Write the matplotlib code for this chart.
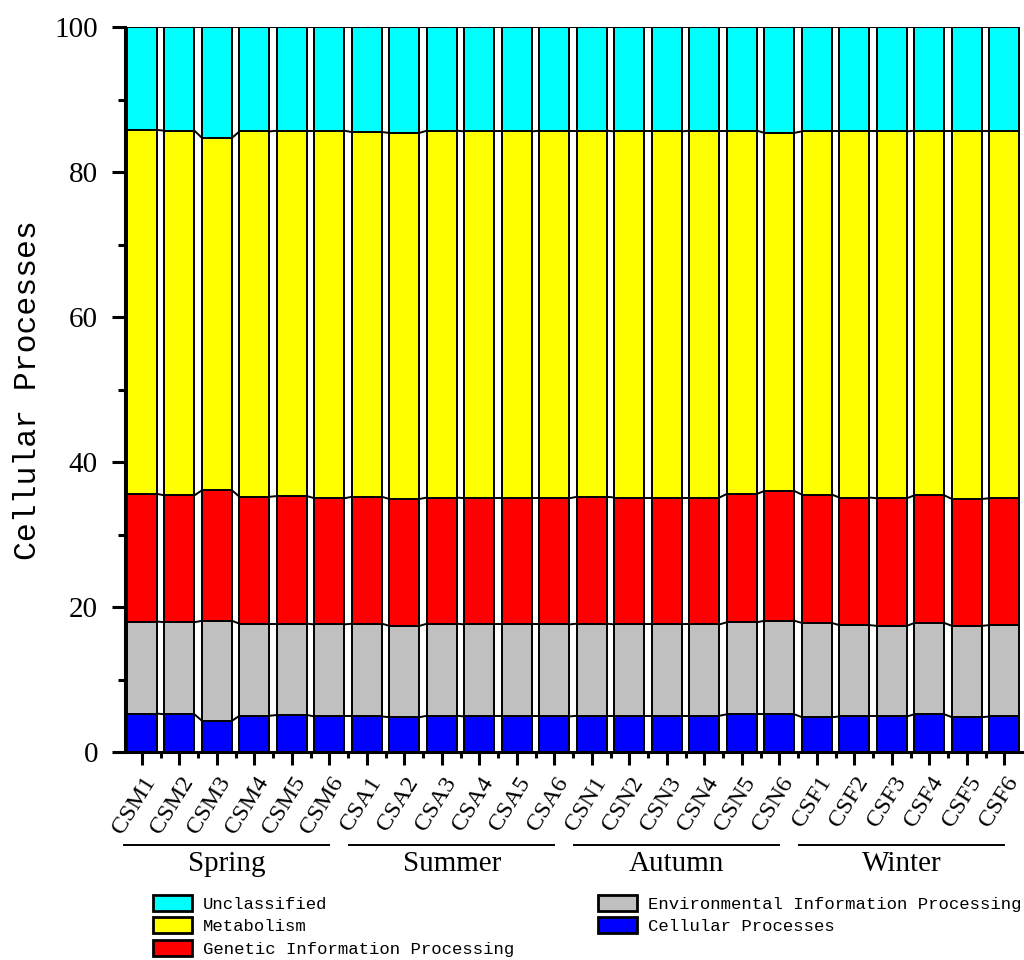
import numpy as np
import matplotlib
matplotlib.use("Agg")
import matplotlib.pyplot as plt
from matplotlib.patches import Patch
from matplotlib.ticker import MultipleLocator, FixedLocator, NullFormatter
import matplotlib.transforms as mtransforms

# Sample labels and season groups
samples = ["CSM1", "CSM2", "CSM3", "CSM4", "CSM5", "CSM6",
           "CSA1", "CSA2", "CSA3", "CSA4", "CSA5", "CSA6",
           "CSN1", "CSN2", "CSN3", "CSN4", "CSN5", "CSN6",
           "CSF1", "CSF2", "CSF3", "CSF4", "CSF5", "CSF6"]
seasons = ["Spring", "Summer", "Autumn", "Winter"]

# Relative abundance (%) of each functional category, bottom to top
cellular = [5.3, 5.2, 4.3, 5.0, 5.1, 4.9,
            4.9, 4.8, 5.0, 4.9, 4.9, 4.9,
            5.0, 5.0, 5.0, 5.0, 5.2, 5.2,
            4.8, 4.9, 4.9, 5.2, 4.8, 4.9]
environmental = [12.7, 12.7, 13.8, 12.7, 12.6, 12.7,
                 12.8, 12.6, 12.7, 12.7, 12.7, 12.7,
                 12.7, 12.6, 12.6, 12.6, 12.7, 12.9,
                 13.0, 12.6, 12.5, 12.6, 12.6, 12.6]
genetic = [17.6, 17.5, 18.0, 17.5, 17.6, 17.4,
           17.5, 17.5, 17.4, 17.4, 17.4, 17.4,
           17.5, 17.5, 17.5, 17.5, 17.7, 17.9,
           17.7, 17.6, 17.6, 17.6, 17.5, 17.5]
metabolism = [50.2, 50.3, 48.6, 50.4, 50.4, 50.7,
              50.3, 50.5, 50.6, 50.6, 50.6, 50.7,
              50.5, 50.5, 50.5, 50.6, 50.1, 49.4,
              50.1, 50.5, 50.6, 50.3, 50.8, 50.7]
unclassified = [14.2, 14.3, 15.3, 14.4, 14.3, 14.3,
                14.5, 14.6, 14.3, 14.4, 14.4, 14.3,
                14.3, 14.4, 14.4, 14.3, 14.3, 14.6,
                14.4, 14.4, 14.4, 14.3, 14.3, 14.3]

series = [
    ("Cellular Processes", cellular, "#0000FF"),
    ("Environmental Information Processing", environmental, "#C0C0C0"),
    ("Genetic Information Processing", genetic, "#FF0000"),
    ("Metabolism", metabolism, "#FFFF00"),
    ("Unclassified", unclassified, "#00FFFF"),
]

SERIF = "Liberation Serif"
MONO = "Liberation Mono"

fig = plt.figure(figsize=(10.24, 9.6), dpi=100)
ax = fig.add_axes([125 / 1024, 208 / 960, 897 / 1024, 725 / 960])

x = np.arange(len(samples))
width = 0.8
edge_lw = 1.4
bottom = np.zeros(len(samples))
levels = [bottom.copy()]
for name, vals, color in series:
    vals = np.asarray(vals, dtype=float)
    ax.bar(x, vals, width=width, bottom=bottom, color=color,
           edgecolor="black", linewidth=edge_lw, zorder=2)
    bottom = bottom + vals
    levels.append(bottom.copy())

# Connecting lines between adjacent bars at every stack boundary
for lev in levels[1:]:
    for i in range(len(samples) - 1):
        ax.plot([x[i] + width / 2, x[i + 1] - width / 2], [lev[i], lev[i + 1]],
                color="black", linewidth=edge_lw, zorder=3, solid_capstyle="butt")

ax.set_xlim(-0.453, 23.47)
ax.set_ylim(0, 100)

for side in ("top", "right"):
    ax.spines[side].set_visible(False)
for side in ("left", "bottom"):
    ax.spines[side].set_linewidth(2.2)

ax.yaxis.set_major_locator(MultipleLocator(20))
ax.yaxis.set_minor_locator(MultipleLocator(10))
ax.xaxis.set_major_locator(FixedLocator(x))
ax.xaxis.set_minor_locator(FixedLocator(np.arange(-0.5, 24, 1.0)))
ax.xaxis.set_major_formatter(NullFormatter())

ax.tick_params(axis="y", which="major", direction="out", length=9.5, width=2.2,
               pad=10, labelsize=21)
ax.tick_params(axis="y", which="minor", direction="out", length=5, width=2.2)
ax.tick_params(axis="x", which="major", direction="out", length=9.5, width=2.2)
ax.tick_params(axis="x", which="minor", direction="out", length=4.5, width=2.2)

for lbl in ax.get_yticklabels():
    lbl.set_fontfamily(SERIF)

# Rotated sample labels, anchored at the end of each label
xform = mtransforms.blended_transform_factory(ax.transData, ax.transAxes)
label_off = mtransforms.ScaledTranslation(14 / 100, -29.5 / 100, fig.dpi_scale_trans)
for xi, name in zip(x, samples):
    ax.text(xi, 0, name, transform=xform + label_off, rotation=58,
            rotation_mode="anchor", ha="right", va="baseline",
            fontfamily=SERIF, fontsize=17.5, clip_on=False)

fig.text(28 / 1024, 1 - 390 / 960, "Cellular Processes", rotation=90,
         ha="center", va="center", fontfamily=MONO, fontsize=22.7, color="black")

# Season brackets under the sample labels
for g, season in enumerate(seasons):
    start, end = 6 * g - 0.48, 6 * g + 5.0
    ax.plot([start, end], [-0.128, -0.128], color="black", linewidth=1.4,
            transform=xform, clip_on=False)
    ax.text((start + end) / 2, -0.137, season, transform=xform, ha="center",
            va="top", fontfamily=SERIF, fontsize=21)

legend_order = [4, 3, 2, 1, 0]
handles = [Patch(facecolor=series[k][2], edgecolor="black", linewidth=2.0)
           for k in legend_order]
labels = [series[k][0] for k in legend_order]
fig.legend(handles, labels, ncol=2, loc="upper left",
           bbox_to_anchor=(153 / 1024, 1 - 895 / 960), frameon=False,
           prop={"family": MONO, "size": 12.4}, handlelength=2.27,
           handleheight=1.05, handletextpad=0.64, columnspacing=4.85,
           labelspacing=0.32, borderpad=0, borderaxespad=0)

fig.savefig("out.png", dpi=100)
